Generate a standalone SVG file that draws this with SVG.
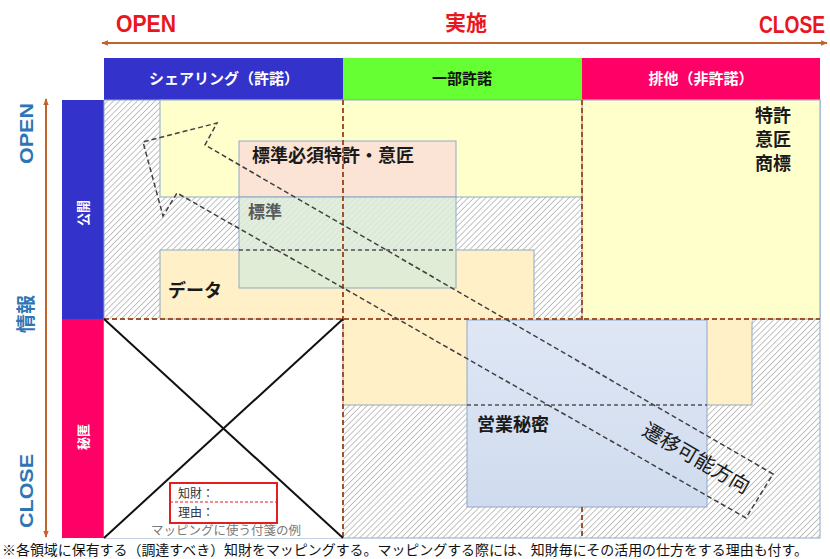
<svg xmlns="http://www.w3.org/2000/svg" width="830" height="559" viewBox="0 0 830 559">
<defs>
<pattern id="hatch" width="4.2" height="4.2" patternUnits="userSpaceOnUse" patternTransform="rotate(45)">
<rect width="4.2" height="4.2" fill="#ffffff"/>
<line x1="0" y1="0" x2="0" y2="4.2" stroke="#9a9a9a" stroke-width="1.2"/>
</pattern>
<linearGradient id="blueg" x1="0" y1="0" x2="0" y2="1">
<stop offset="0" stop-color="#dfe7f5"/>
<stop offset="1" stop-color="#cfdbee"/>
</linearGradient>
<marker id="ah" viewBox="0 0 10 10" refX="9" refY="5" markerWidth="7" markerHeight="7" orient="auto-start-reverse" markerUnits="userSpaceOnUse">
<path d="M0,1 L10,5 L0,9 z" fill="#c0642d"/>
</marker>
<style>
.jp{font-family:"Noto Sans CJK JP","Noto Sans",sans-serif;}
.lat{font-family:"Liberation Sans",Arial,sans-serif;font-weight:bold;}
.axr{fill:#e8171e;font-size:20px;}
.axb{fill:#2e75b6;font-size:19px;}
.hd{font-size:15px;font-weight:bold;text-anchor:middle;}
.lbl{font-size:18px;font-weight:bold;fill:#1a1a1a;}
.box{stroke:#8ea9c6;stroke-width:1;}
.cell{stroke:#a0522d;stroke-width:2;stroke-dasharray:5 3;fill:none;}
.gd{stroke:#505050;stroke-width:1.5;stroke-dasharray:4 3;fill:none;}
</style>
</defs>
<rect width="830" height="559" fill="#ffffff"/>

<!-- top axis labels -->
<g id="top-axis">
<text class="lat axr" transform="translate(116,32) scale(1.06,1.15)">OPEN</text>
<text class="jp" x="466" y="30" font-size="21" font-weight="bold" fill="#e8171e" text-anchor="middle">実施</text>
<text class="lat axr" transform="translate(759,33) scale(0.96,1.15)">CLOSE</text>
</g>

<!-- left axis labels -->
<g id="left-axis">
<text class="lat axb" transform="translate(33,164) rotate(-90)" textLength="61" lengthAdjust="spacingAndGlyphs">OPEN</text>
<text class="jp" transform="translate(33,314) rotate(-90)" font-size="19" font-weight="bold" fill="#2e75b6" text-anchor="middle">情報</text>
<text class="lat axb" transform="translate(33,528) rotate(-90)" textLength="74" lengthAdjust="spacingAndGlyphs">CLOSE</text>
</g>

<!-- headers -->
<g id="header-sharing">
<rect x="104" y="58" width="239" height="42" fill="#3333cc"/>
<text class="jp hd" x="224" y="84" fill="#ffffff">シェアリング（許諾）</text>
</g>
<g id="header-partial">
<rect x="343" y="58" width="239" height="42" fill="#66ff33"/>
<text class="jp hd" x="462" y="84" fill="#111111">一部許諾</text>
</g>
<g id="header-exclusive">
<rect x="582" y="58" width="238" height="42" fill="#ff0066"/>
<text class="jp hd" x="701" y="84" fill="#ffffff">排他（非許諾）</text>
</g>
<g id="row-public">
<rect x="62" y="100" width="42" height="219" fill="#3333cc"/>
<text class="jp" transform="translate(88,213) rotate(-90)" font-size="13" font-weight="bold" fill="#ffffff" text-anchor="middle">公開</text>
</g>
<g id="row-secret">
<rect x="62" y="319" width="42" height="219" fill="#ff0066"/>
<text class="jp" transform="translate(88,437) rotate(-90)" font-size="13" font-weight="bold" fill="#ffffff" text-anchor="middle">秘匿</text>
</g>

<!-- main area background -->
<g id="background">
<rect x="104" y="100" width="716" height="438" fill="url(#hatch)" stroke="#8ea9c6" stroke-width="1"/>
<rect x="104" y="319" width="239" height="219" fill="#ffffff"/>
</g>

<!-- exclusive IP cell -->
<g id="patent-design-trademark">
<rect x="582" y="100" width="238" height="219" fill="#ffffcc" class="box"/>
<text class="jp lbl" x="773" y="122" text-anchor="middle" font-size="15.5">特許</text>
<text class="jp lbl" x="773" y="146" text-anchor="middle" font-size="15.5">意匠</text>
<text class="jp lbl" x="773" y="170" text-anchor="middle" font-size="15.5">商標</text>
</g>

<!-- yellow upper area -->
<g id="open-area">
<rect x="160" y="100" width="422" height="97" fill="#ffffcc" class="box"/>
</g>

<!-- data -->
<g id="data">
<path d="M160,250 H534 V319 H752 V405 H343 V319 H160 Z" fill="#fff0c8" class="box"/>
<rect x="343" y="318" width="409" height="4" fill="#fff0c8"/>
<text class="jp lbl" x="168" y="297">データ</text>
</g>

<!-- standard essential patent -->
<g id="sep">
<rect x="239" y="141" width="217" height="56" fill="#fbe3d6" fill-opacity="0.95" class="box"/>
<text class="jp lbl" x="252" y="162">標準必須特許・意匠</text>
</g>

<!-- standard -->
<g id="standard">
<rect x="239" y="197" width="217" height="91" fill="#dcebd8" fill-opacity="0.85" class="box"/>
<line x1="239" y1="250" x2="456" y2="250" class="gd"/>
<text class="jp" x="248" y="218" font-size="17" font-weight="bold" fill="#5a5a5a">標準</text>
</g>

<!-- trade secret -->
<g id="trade-secret">
<rect x="467" y="320" width="240" height="187" fill="url(#blueg)" class="box"/>
<line x1="467" y1="405" x2="707" y2="405" class="gd"/>
<text class="jp lbl" x="477" y="431">営業秘密</text>
</g>

<!-- cell division lines -->
<g id="cell-lines">
<line x1="343" y1="100" x2="343" y2="538" class="cell"/>
<line x1="582" y1="100" x2="582" y2="320" class="cell"/>
<line x1="582" y1="507" x2="582" y2="538" class="cell"/>
<line x1="104" y1="319" x2="820" y2="319" class="cell"/>
</g>

<!-- X in lower-left cell -->
<g id="not-applicable">
<line x1="104" y1="319" x2="343" y2="538" stroke="#111111" stroke-width="2"/>
<line x1="343" y1="319" x2="104" y2="538" stroke="#111111" stroke-width="2"/>
</g>

<!-- sticky note example -->
<g id="sticky-note">
<rect x="170" y="483" width="107" height="40" fill="#ffffff" stroke="#e02020" stroke-width="2"/>
<line x1="170" y1="502" x2="277" y2="502" stroke="#e02020" stroke-width="1.2" stroke-dasharray="3 2"/>
<text class="jp" x="178" y="498" font-size="12" fill="#333333">知財：</text>
<text class="jp" x="178" y="517" font-size="12" fill="#333333">理由：</text>
<text class="jp" x="226" y="535" font-size="12.5" fill="#7a7a7a" text-anchor="middle">マッピングに使う付箋の例</text>
</g>

<!-- connectors -->
<g id="connectors">
<line x1="102" y1="43" x2="827" y2="43" stroke="#c0642d" stroke-width="2" marker-start="url(#ah)" marker-end="url(#ah)"/>
<line x1="46" y1="99" x2="46" y2="537" stroke="#c0642d" stroke-width="2" marker-start="url(#ah)" marker-end="url(#ah)"/>
<polygon id="transition-arrow" points="773,474 205,145 217,123 143,142 163,216 177,193 746,518" fill="none" stroke="#404040" stroke-width="1.5" stroke-dasharray="5 3"/>
</g>
<g id="transition-label">
<text class="jp" transform="translate(697,457) rotate(30)" font-size="20" fill="#1a1a1a" text-anchor="middle" dominant-baseline="central">遷移可能方向</text>
</g>

<!-- footnote -->
<g id="footnote">
<text class="jp" x="2" y="555" font-size="13.8" fill="#111111" textLength="806" lengthAdjust="spacingAndGlyphs">※各領域に保有する（調達すべき）知財をマッピングする。マッピングする際には、知財毎にその活用の仕方をする理由も付す。</text>
</g>
</svg>
